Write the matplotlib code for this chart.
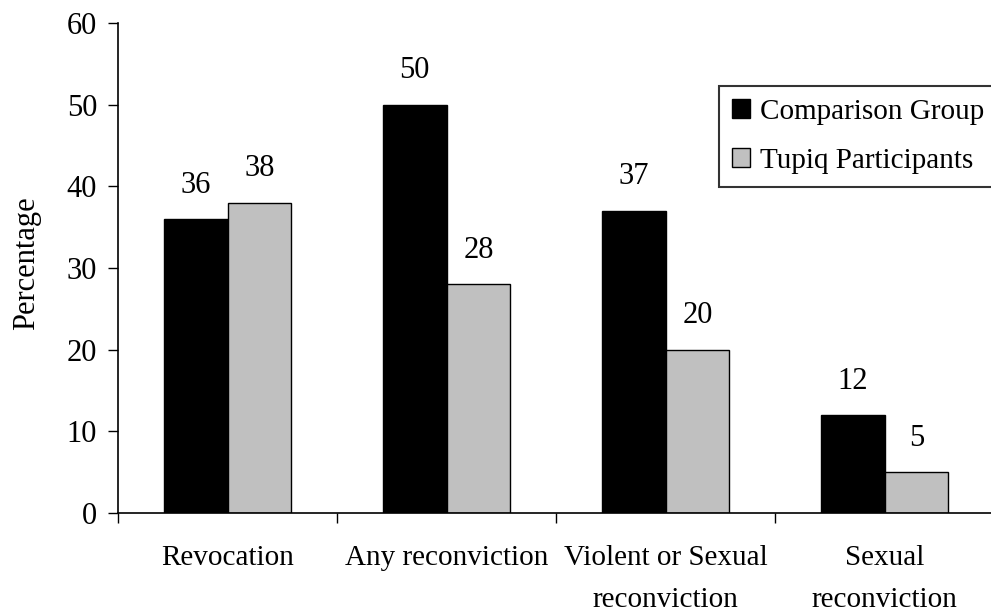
import matplotlib
matplotlib.use("Agg")
import matplotlib.pyplot as plt
import numpy as np

categories = ["Revocation", "Any reconviction", "Violent or Sexual\nreconviction", "Sexual\nreconviction"]
comparison = [36, 50, 37, 12]
tupiq = [38, 28, 20, 5]
series_names = ["Comparison Group", "Tupiq Participants"]

plt.rcParams['font.family'] = ['Liberation Serif', 'DejaVu Serif']

fig = plt.figure(figsize=(9.91, 6.16), dpi=100)
ax = fig.add_axes([118/991, 103/616, 876/991, 490/616])

x = np.arange(len(categories))
w = 0.292
b1 = ax.bar(x - w/2, comparison, w, color='black', edgecolor='black', linewidth=1, label=series_names[0])
b2 = ax.bar(x + w/2, tupiq, w, color='#c0c0c0', edgecolor='black', linewidth=1, label=series_names[1])

# value labels above the bars
for bars, vals in [(b1, comparison), (b2, tupiq)]:
    for r, v in zip(bars, vals):
        ax.annotate(str(v), (r.get_x() + r.get_width()/2, v), xytext=(0, 14),
                    textcoords='offset points', ha='center', va='bottom', fontsize=22)

ax.set_xlim(-0.5, 3.5)
ax.set_ylim(0, 60)
ax.set_yticks(range(0, 61, 10))
ax.set_xticks(np.arange(-0.5, 4, 1))
ax.set_xticklabels([])
ax.set_xticks(x, minor=True)
ax.set_xticklabels(categories, minor=True, fontsize=21)
ax.tick_params(axis='x', which='minor', length=0, pad=23)
ax.tick_params(axis='x', which='major', length=7, width=1, direction='out')
ax.tick_params(axis='y', length=7, width=1, direction='out', labelsize=22, pad=8)
for lab in ax.get_xticklabels(minor=True):
    lab.set_linespacing(1.8)

for s in ['top', 'right']:
    ax.spines[s].set_visible(False)
ax.spines['left'].set_linewidth(1.2)
ax.spines['bottom'].set_linewidth(1.2)

ax.set_ylabel("Percentage", fontsize=22)
ax.yaxis.set_label_coords(-0.088, 0.51)

leg = fig.legend(handles=[b1, b2], loc='upper left', bbox_to_anchor=(719/991, 1 - 86/616),
                 fontsize=21, frameon=True, fancybox=False, edgecolor='black',
                 handlelength=0.62, handleheight=0.62, handletextpad=0.35, borderpad=0.45,
                 labelspacing=0.78, borderaxespad=0)
leg.get_frame().set_linewidth(1.5)

fig.savefig("out.png", dpi=100)
